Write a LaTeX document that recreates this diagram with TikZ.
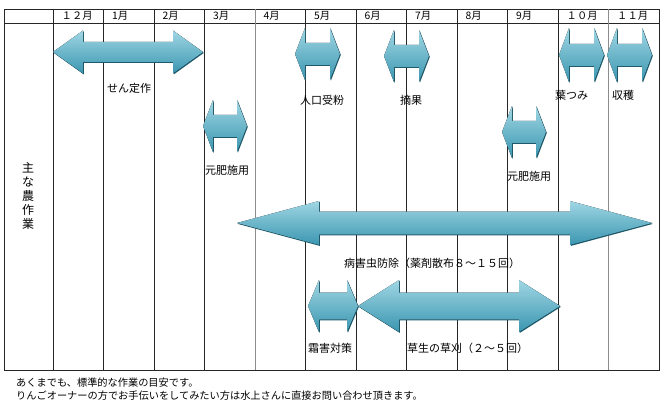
\documentclass[tikz,border=0pt]{standalone}
\usepackage{fontspec}
\setmainfont{Noto Sans CJK JP}
\usepackage{tikz}
\definecolor{aqualight}{RGB}{160,214,228}
\definecolor{aqua}{RGB}{75,174,200}
\definecolor{aquadark}{RGB}{58,150,176}
\definecolor{aquashadow}{RGB}{30,90,108}
% double block arrow: left x, right x, middle y, head length, head half height, shaft half height
\newcommand{\farmarrow}[6]{%
  \fill[arrowshadow] (#1+0.8,#3+0.9) -- (#1+#4+0.8,#3-#5+0.9) -- (#1+#4+0.8,#3-#6+0.9) -- (#2-#4+0.8,#3-#6+0.9) -- (#2-#4+0.8,#3-#5+0.9) -- (#2+0.8,#3+0.9) -- (#2-#4+0.8,#3+#5+0.9) -- (#2-#4+0.8,#3+#6+0.9) -- (#1+#4+0.8,#3+#6+0.9) -- (#1+#4+0.8,#3+#5+0.9) -- cycle;
  \fill[arrowbody] (#1,#3) -- (#1+#4,#3-#5) -- (#1+#4,#3-#6) -- (#2-#4,#3-#6) -- (#2-#4,#3-#5) -- (#2,#3) -- (#2-#4,#3+#5) -- (#2-#4,#3+#6) -- (#1+#4,#3+#6) -- (#1+#4,#3+#5) -- cycle;
}

\begin{document}
\begin{tikzpicture}[x=1pt, y=-1pt]
  \tikzstyle{grid}=[draw=black!85, line width=0.8pt]
  \tikzstyle{greygrid}=[draw=black!45, line width=0.9pt]
  \tikzstyle{month}=[anchor=west, inner sep=0pt, font=\fontsize{10.3}{12}\selectfont]
  \tikzstyle{work}=[anchor=west, inner sep=0pt, font=\fontsize{11}{13}\selectfont]
  \tikzstyle{note}=[anchor=west, inner sep=0pt, font=\fontsize{10.2}{12}\selectfont]
  \tikzstyle{arrowbody}=[top color=aqualight, middle color=aqua, bottom color=aquadark]
  \tikzstyle{arrowshadow}=[fill=aquashadow]
  \useasboundingbox (0,0) rectangle (668,403);
  \fill[white] (0,0) rectangle (668,403);

  % table
  \draw[grid] (4,9) rectangle (659,370);
  \draw[grid] (4,23) -- (659,23);
  \foreach \i in {0,1,2,3,5,6,7,8,9,10}
    \draw[grid] (53+\i*50.5,9) -- (53+\i*50.5,370);
  \foreach \i in {4,11}
    \draw[greygrid] (53+\i*50.5,9) -- (53+\i*50.5,370);

  \foreach \m [count=\i from 0] in {１２月,1月,2月,3月,4月,5月,6月,7月,8月,9月,１０月,１１月}
    \node[month] (m\i) at (61.5+\i*50.5,16) {\m};

  \node[work, anchor=center, align=center, font=\fontsize{12}{13.8}\selectfont] (side) at (28,196) {主\\な\\農\\作\\業};

  % arrows
  \farmarrow{53}{203}{52}{30}{21.5}{10}
  \farmarrow{295}{340}{54}{10}{26}{11}
  \farmarrow{384}{429}{56}{10}{26}{11}
  \farmarrow{559}{604}{55}{10}{27}{11}
  \farmarrow{607}{652}{55}{10}{27}{11}
  \farmarrow{203}{247}{126}{10}{26}{11}
  \farmarrow{502}{546}{132}{10}{26}{11}
  \farmarrow{237}{652}{223}{82}{22}{11.5}
  \farmarrow{308}{358}{306}{11}{26}{13.5}
  \farmarrow{358}{560}{306}{41}{26}{13.5}

  % labels
  \node[work] (pruning)   at (107,88)  {せん定作};
  \node[work] (pollinate) at (300,100) {人口受粉};
  \node[work] (thinning)  at (400,100) {摘果};
  \node[work] (leaves)    at (555,95)  {葉つみ};
  \node[work] (harvest)   at (612,95)  {収穫};
  \node[work] (fertA)     at (205,170) {元肥施用};
  \node[work] (fertB)     at (507,176) {元肥施用};
  \node[work] (pest)      at (344,263) {病害虫防除（薬剤散布８～１５回）};
  \node[work] (frost)     at (308,348) {霜害対策};
  \node[work] (mowing)    at (407,348) {草生の草刈（２～５回）};

  \node[note] (note1) at (16,383) {あくまでも、標準的な作業の目安です。};
  \node[note] (note2) at (16,396) {りんごオーナーの方でお手伝いをしてみたい方は水上さんに直接お問い合わせ頂きます。};
\end{tikzpicture}
\end{document}
